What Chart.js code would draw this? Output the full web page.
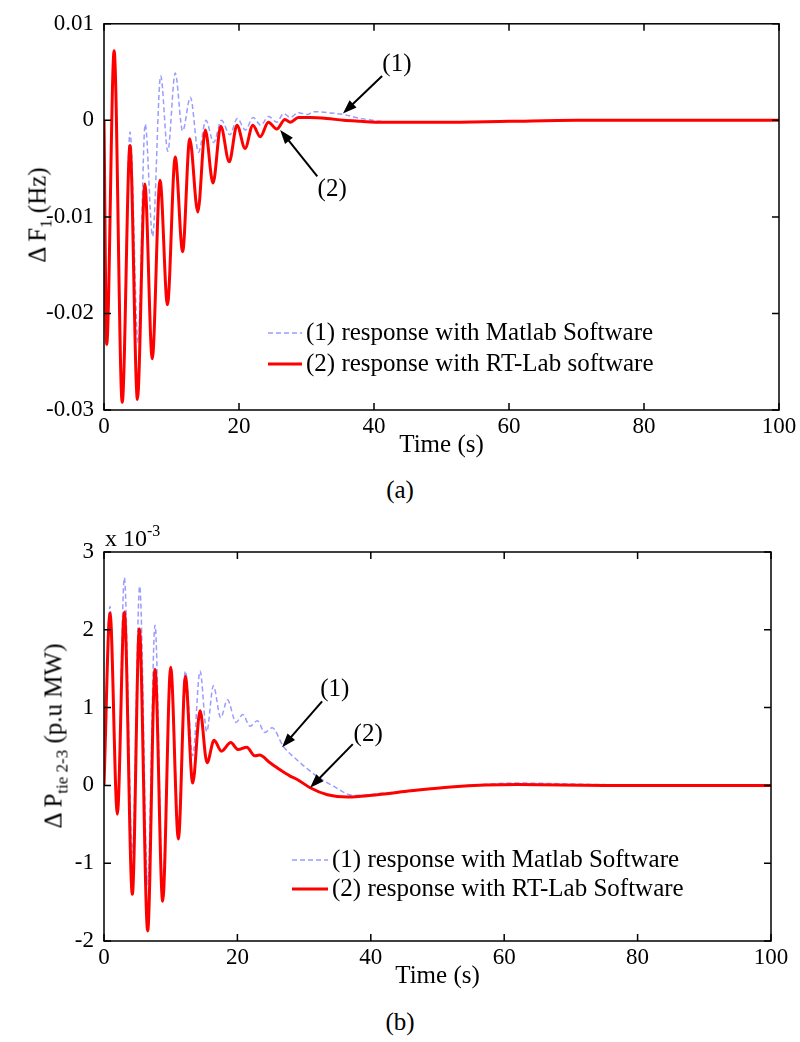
<!DOCTYPE html>
<html>
<head>
<meta charset="utf-8">
<script src="https://cdn.jsdelivr.net/npm/chart.js@4.4.0/dist/chart.umd.min.js"></script>
<style>
body{margin:0;background:#fff;width:800px;height:1042px;position:relative;overflow:hidden;font-family:"Liberation Serif","Times New Roman",serif;color:#000}
.wrap{position:absolute;left:0;width:800px}
#topWrap{top:0;height:470px}
#botWrap{top:520px;height:481px}
.ylab{position:absolute;font-size:25px;white-space:nowrap;transform:translate(-50%,-50%) rotate(-90deg)}
.cap{position:absolute;font-size:25px;transform:translate(-50%,-50%)}
sub{font-size:17px;vertical-align:-6px}
sup{font-size:16px;vertical-align:10px}
</style>
</head>
<body>
<div class="wrap" id="topWrap"><canvas id="chartF"></canvas></div>
<div class="wrap" id="botWrap"><canvas id="chartP"></canvas></div>

<div class="ylab" style="left:40px;top:215px">Δ F<sub>1</sub> (Hz)</div>
<div class="ylab" style="left:56px;top:736px">Δ P<sub>tie 2-3</sub> (p.u MW)</div>
<div style="position:absolute;left:105px;top:522px;font-size:24px">x 10<sup>-3</sup></div>
<div class="cap" style="left:400px;top:490px">(a)</div>
<div class="cap" style="left:400px;top:1022px">(b)</div>

<script>
// axis ticks
var xTicks = [0, 20, 40, 60, 80, 100];
var fTicks = [-0.03, -0.02, -0.01, 0, 0.01];
var pTicks = [-2, -1, 0, 1, 2, 3];

// (a) frequency deviation, Matlab
var fMatlabT = [0, 0.4, 1.5, 2.7, 3.85, 5.05, 6.1, 7.2, 8.4, 9.45, 10.55, 11.65, 12.8, 14.0, 15.1, 16.25, 17.4, 18.65, 19.75, 20.95, 22.1, 23.2, 24.4, 25.6, 26.6, 27.6, 28.8, 30.1, 31.1, 33, 35.5, 38, 41, 45, 50, 60, 70, 80, 100];
var fMatlabY = [0, -0.0232, 0.0071, -0.0288, -0.0012, -0.0230, -0.0004, -0.0120, 0.0046, -0.0032, 0.0049, -0.0011, 0.0024, -0.0033, 0.0000, -0.0023, 0.0000, -0.0015, 0.0002, -0.0010, 0.0003, -0.0005, 0.0004, -0.0002, 0.0007, 0.0003, 0.0008, 0.0006, 0.0009, 0.0008, 0.0006, 0.0002, -0.0001, -0.0002, -0.0002, -0.0001, 0, 0, 0];
// (a) frequency deviation, RT-Lab
var fRtlabT = [0, 0.4, 1.5, 2.7, 3.85, 4.95, 6.05, 7.15, 8.3, 9.4, 10.55, 11.65, 12.7, 13.9, 15.0, 16.15, 17.3, 18.55, 19.7, 20.9, 22.05, 23.15, 24.35, 25.6, 26.8, 27.6, 28.8, 30.5, 33, 35.5, 38, 41, 45, 50, 60, 70, 80, 100];
var fRtlabY = [0, -0.0232, 0.0072, -0.0292, -0.0026, -0.0289, -0.0066, -0.0247, -0.0062, -0.0191, -0.0038, -0.0136, -0.0019, -0.0095, -0.0010, -0.0065, -0.0006, -0.0043, -0.0005, -0.0029, -0.0005, -0.0017, -0.0002, -0.0009, 0.0001, -0.0002, 0.0003, 0.0003, 0.0002, 0.0000, -0.0001, -0.0002, -0.0002, -0.0002, -0.0001, 0, 0, 0];

// (b) tie-line power deviation (x 10^-3), Matlab
var pMatlabT = [0, 0.9, 2.0, 3.05, 4.25, 5.35, 6.55, 7.65, 8.8, 10.0, 11.15, 12.2, 13.3, 14.4, 15.4, 16.4, 17.5, 18.5, 19.8, 20.8, 21.9, 23.0, 24.1, 25.2, 26.9, 28.9, 31.9, 34.4, 37.4, 42.9, 51.9, 62, 75, 100];
var pMatlabY = [0, 2.30, -0.37, 2.67, -0.87, 2.56, -1.27, 2.06, -1.30, 1.53, -0.50, 1.47, 0.38, 1.47, 0.69, 1.28, 0.87, 1.10, 0.81, 0.91, 0.76, 0.83, 0.68, 0.74, 0.50, 0.33, 0.12, -0.01, -0.13, -0.09, -0.02, 0.03, 0.01, 0];
// (b) tie-line power deviation (x 10^-3), RT-Lab
var pRtlabT = [0, 0.9, 2.0, 3.05, 4.25, 5.3, 6.55, 7.65, 8.8, 10.0, 11.15, 12.2, 13.3, 14.4, 15.45, 16.5, 17.6, 19.0, 20.1, 21.4, 22.6, 23.3, 24.9, 26.4, 27.9, 29.1, 30.9, 33.5, 36.5, 38.5, 42, 46, 52, 62, 75, 100];
var pRtlabY = [0, 2.22, -0.37, 2.23, -1.40, 2.01, -1.87, 1.49, -1.49, 1.52, -0.69, 1.40, 0.03, 0.96, 0.29, 0.58, 0.44, 0.55, 0.46, 0.49, 0.38, 0.39, 0.29, 0.20, 0.12, 0.07, -0.03, -0.12, -0.15, -0.14, -0.11, -0.07, -0.02, 0.01, 0, 0];

var serif = '"Liberation Serif", "Times New Roman", serif';
var tickFont = { family: serif, size: 23 };
var labelFont = { family: serif, size: 25 };

function toPoints(xs, ys) {
  return xs.map(function (x, i) { return { x: x, y: ys[i] }; });
}

function drawArrow(ctx, x1, y1, x2, y2) {
  var ang = Math.atan2(y2 - y1, x2 - x1);
  var L = 14, W = 5;
  ctx.beginPath();
  ctx.moveTo(x1, y1);
  ctx.lineTo(x2 - L * 0.8 * Math.cos(ang), y2 - L * 0.8 * Math.sin(ang));
  ctx.stroke();
  ctx.beginPath();
  ctx.moveTo(x2, y2);
  ctx.lineTo(x2 - L * Math.cos(ang) + W * Math.sin(ang), y2 - L * Math.sin(ang) - W * Math.cos(ang));
  ctx.lineTo(x2 - L * Math.cos(ang) - W * Math.sin(ang), y2 - L * Math.sin(ang) + W * Math.cos(ang));
  ctx.closePath();
  ctx.fill();
}

// box, inward ticks, legend and arrows the way Matlab draws them
var matlabLook = {
  id: "matlabLook",
  afterDatasetsDraw: function (chart, args, opts) {
    var ctx = chart.ctx, a = chart.chartArea;
    var xs = chart.scales.x, ys = chart.scales.y;
    ctx.save();
    ctx.strokeStyle = "#000";
    ctx.fillStyle = "#000";
    ctx.lineWidth = 1.5;
    ctx.strokeRect(a.left, a.top, a.right - a.left, a.bottom - a.top);
    var tl = 7;
    ctx.beginPath();
    xs.ticks.forEach(function (t) {
      var px = xs.getPixelForValue(t.value);
      ctx.moveTo(px, a.bottom); ctx.lineTo(px, a.bottom - tl);
      ctx.moveTo(px, a.top); ctx.lineTo(px, a.top + tl);
    });
    ys.ticks.forEach(function (t) {
      var py = ys.getPixelForValue(t.value);
      ctx.moveTo(a.left, py); ctx.lineTo(a.left + tl, py);
      ctx.moveTo(a.right, py); ctx.lineTo(a.right - tl, py);
    });
    ctx.stroke();

    ctx.font = labelFont.size + "px " + serif;
    ctx.textBaseline = "middle";

    // arrows with labels
    ctx.lineWidth = 2;
    ctx.textAlign = "center";
    opts.arrows.forEach(function (ar) {
      drawArrow(ctx,
        xs.getPixelForValue(ar.from[0]), ys.getPixelForValue(ar.from[1]),
        xs.getPixelForValue(ar.to[0]), ys.getPixelForValue(ar.to[1]));
      ctx.fillText(ar.label, xs.getPixelForValue(ar.at[0]), ys.getPixelForValue(ar.at[1]));
    });

    // legend
    var lg = opts.legend;
    ctx.textAlign = "left";
    chart.data.datasets.forEach(function (ds, i) {
      var y = lg.y + i * lg.gap;
      ctx.save();
      ctx.strokeStyle = ds.borderColor;
      ctx.lineWidth = ds.borderWidth;
      ctx.setLineDash(ds.borderDash || []);
      ctx.beginPath();
      ctx.moveTo(lg.x, y);
      ctx.lineTo(lg.x + lg.len, y);
      ctx.stroke();
      ctx.restore();
      ctx.fillText(ds.label, lg.x + lg.len + 4, y);
    });
    ctx.restore();
  }
};

function makeChart(id, cfg) {
  return new Chart(document.getElementById(id), {
    type: "line",
    data: {
      datasets: [
        {
          label: cfg.names[0],
          data: cfg.blue,
          borderColor: "#9a9cff",
          borderWidth: 1.5,
          borderDash: [5, 3],
          pointRadius: 0,
          cubicInterpolationMode: "monotone",
          order: 1,
        },
        {
          label: cfg.names[1],
          data: cfg.red,
          borderColor: "#ff0000",
          borderWidth: 3,
          pointRadius: 0,
          cubicInterpolationMode: "monotone",
          order: 0,
        },
      ],
    },
    options: {
      responsive: true,
      maintainAspectRatio: false,
      animation: false,
      layout: { padding: { top: cfg.padTop, right: cfg.padRight, left: 0, bottom: 0 } },
      plugins: {
        legend: { display: false },
        tooltip: { enabled: false },
        matlabLook: { legend: cfg.legend, arrows: cfg.arrows },
      },
      scales: {
        x: {
          type: "linear",
          min: xTicks[0],
          max: xTicks[xTicks.length - 1],
          afterBuildTicks: function (s) { s.ticks = xTicks.map(function (v) { return { value: v }; }); },
          afterFit: function (s) { s.height = 60; },
          grid: { display: false, drawTicks: false },
          border: { display: false },
          ticks: { font: tickFont, color: "#000", padding: 3, maxRotation: 0, autoSkip: false },
          title: { display: true, text: "Time (s)", font: labelFont, color: "#000", padding: { top: 0, bottom: 10 } },
        },
        y: {
          type: "linear",
          min: cfg.yTicks[0],
          max: cfg.yTicks[cfg.yTicks.length - 1],
          afterBuildTicks: function (s) { s.ticks = cfg.yTicks.map(function (v) { return { value: v }; }); },
          afterFit: function (s) { s.width = 104; },
          grid: { display: false, drawTicks: false },
          border: { display: false },
          ticks: { font: tickFont, color: "#000", padding: 10, callback: cfg.fmt },
        },
      },
    },
    plugins: [matlabLook],
  });
}

document.addEventListener("DOMContentLoaded", function () {
  makeChart("chartF", {
    names: ["(1) response with Matlab Software", "(2) response with RT-Lab software"],
    blue: toPoints(fMatlabT, fMatlabY),
    red: toPoints(fRtlabT, fRtlabY),
    yTicks: fTicks,
    fmt: function (v) { return v === 0 ? "0" : Number(v).toFixed(2); },
    padTop: 18,
    padRight: 21,
    legend: { x: 268, y: 333, gap: 31, len: 34 },
    arrows: [
      { label: "(1)", at: [43.4, 0.0058], from: [41.2, 0.0046], to: [35.4, 0.0007] },
      { label: "(2)", at: [33.8, -0.0072], from: [31.6, -0.0058], to: [26.1, -0.0010] },
    ],
  });
  makeChart("chartP", {
    names: ["(1) response with Matlab Software", "(2) response with RT-Lab Software"],
    blue: toPoints(pMatlabT, pMatlabY),
    red: toPoints(pRtlabT, pRtlabY),
    yTicks: pTicks,
    fmt: function (v) { return String(v); },
    padTop: 32,
    padRight: 29,
    legend: { x: 292, y: 340, gap: 29, len: 36 },
    arrows: [
      { label: "(1)", at: [34.6, 1.23], from: [32.7, 1.08], to: [26.7, 0.49] },
      { label: "(2)", at: [39.6, 0.66], from: [37.3, 0.53], to: [30.9, -0.03] },
    ],
  });
});
</script>
</body>
</html>
